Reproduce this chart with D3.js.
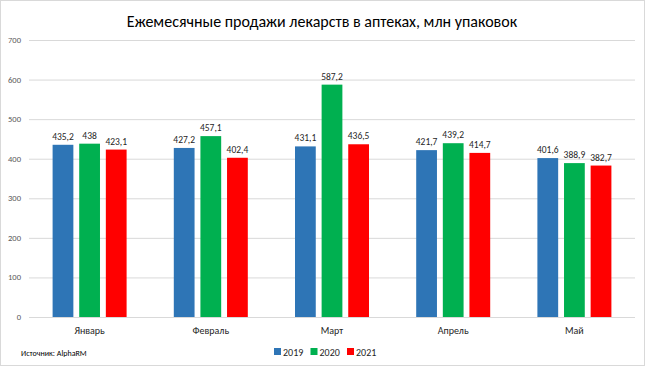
<!DOCTYPE html>
<html>
<head>
<meta charset="utf-8">
<script src="https://cdn.jsdelivr.net/npm/d3@7"></script>
<style>
  body { margin: 0; background: #fff; }
  svg { font-family: Carlito, "Liberation Sans Narrow", "Liberation Sans", sans-serif; }
</style>
</head>
<body>
<script>
// data
var months = ["Январь", "Февраль", "Март", "Апрель", "Май"];
var years = ["2019", "2020", "2021"];
var v2019 = [435.2, 427.2, 431.1, 421.7, 401.6];
var v2020 = [438, 457.1, 587.2, 439.2, 388.9];
var v2021 = [423.1, 402.4, 436.5, 414.7, 382.7];
var yTicks = [0, 100, 200, 300, 400, 500, 600, 700];
var colors = ["#2E75B6", "#00B050", "#FF0000"];

var series = [v2019, v2020, v2021];

var w = 645, h = 367;

var svg = d3.select("body").append("svg")
    .attr("width", w)
    .attr("height", h);

// outer frame
svg.append("rect")
    .attr("x", 0.5).attr("y", 0.5)
    .attr("width", w - 1).attr("height", h - 2)
    .attr("fill", "#fff")
    .attr("stroke", "#d9d9d9");

svg.append("text")
    .attr("x", 322).attr("y", 27)
    .attr("text-anchor", "middle")
    .attr("font-size", 16)
    .attr("fill", "#000")
    .text("Ежемесячные продажи лекарств в аптеках, млн упаковок");

var x0 = d3.scaleBand().domain(months).range([29, 635]);
var x1 = d3.scaleBand().domain(years).range([0, 74]).paddingInner(0.22);
var y = d3.scaleLinear().domain([0, 700]).range([317, 40]);

// gridlines
svg.selectAll(".grid")
    .data(yTicks)
    .enter().append("line")
    .attr("x1", 29).attr("x2", 635)
    .attr("y1", function (d) { return y(d) + 0.5; })
    .attr("y2", function (d) { return y(d) + 0.5; })
    .attr("stroke", "#d9d9d9");

svg.selectAll(".ytick")
    .data(yTicks)
    .enter().append("text")
    .attr("x", 21)
    .attr("y", function (d) { return y(d) + 3; })
    .attr("text-anchor", "end")
    .attr("font-size", 8.5)
    .attr("fill", "#595959")
    .text(function (d) { return d; });

var groups = svg.selectAll(".month")
    .data(months)
    .enter().append("g")
    .attr("transform", function (d) {
        return "translate(" + (x0(d) + x0.bandwidth() / 2 - 37) + ",0)";
    });

groups.each(function (m, i) {
    var g = d3.select(this);
    years.forEach(function (yr, j) {
        var val = series[j][i];
        g.append("rect")
            .attr("x", x1(yr))
            .attr("y", y(val))
            .attr("width", x1.bandwidth())
            .attr("height", y(0) - y(val))
            .attr("fill", colors[j]);
        g.append("text")
            .attr("x", x1(yr) + x1.bandwidth() / 2)
            .attr("y", y(val) - 5)
            .attr("text-anchor", "middle")
            .attr("font-size", 9.5)
            .attr("fill", "#262626")
            .text(String(val).replace(".", ","));
    });
});

// axis line
svg.append("line")
    .attr("x1", 29).attr("x2", 635)
    .attr("y1", y(0) + 0.5).attr("y2", y(0) + 0.5)
    .attr("stroke", "#d9d9d9");

svg.selectAll(".xlab")
    .data(months)
    .enter().append("text")
    .attr("x", function (d) { return x0(d) + x0.bandwidth() / 2; })
    .attr("y", 334)
    .attr("text-anchor", "middle")
    .attr("font-size", 10)
    .attr("fill", "#262626")
    .text(function (d) { return d; });

svg.append("text")
    .attr("x", 21).attr("y", 356)
    .attr("font-size", 8)
    .attr("fill", "#000")
    .text("Источник: AlphaRM");

// legend
var legend = svg.selectAll(".leg")
    .data(years)
    .enter().append("g")
    .attr("transform", function (d, i) { return "translate(" + (274 + i * 36.5) + ",348)"; });

legend.append("rect")
    .attr("width", 7).attr("height", 7)
    .attr("fill", function (d, i) { return colors[i]; });

legend.append("text")
    .attr("x", 9).attr("y", 7.5)
    .attr("font-size", 10)
    .attr("fill", "#262626")
    .text(function (d) { return d; });
</script>
</body>
</html>
